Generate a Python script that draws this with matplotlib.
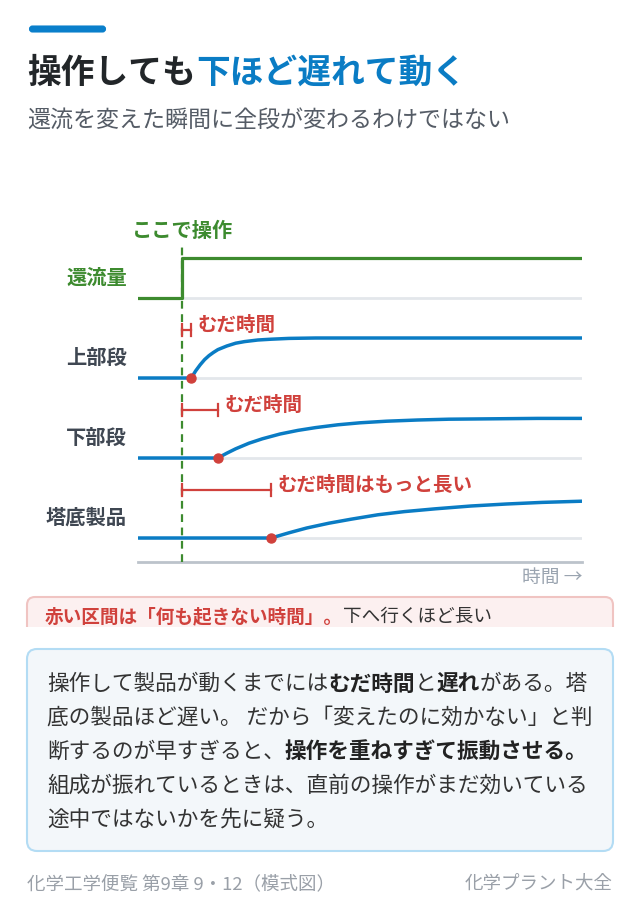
import numpy as np
import matplotlib
matplotlib.use("Agg")
import matplotlib.pyplot as plt
from matplotlib.patches import FancyBboxPatch, Rectangle

plt.rcParams['font.family'] = ['Noto Sans CJK JP', 'DejaVu Sans']

# --- data (time 0-100, response level 0-1 per row) ---
op_time = 10
reflux_t = [0, 10, 10, 100]
reflux_y = [0, 0, 1, 1]

top_t = [0, 12, 13, 14, 15, 16, 17, 18, 20, 22, 24, 27, 30, 34, 40, 50, 100]
top_y = [0, 0, 0.18, 0.33, 0.46, 0.56, 0.64, 0.71, 0.80, 0.87, 0.91, 0.95, 0.97, 0.99, 1.0, 1.0, 1.0]

mid_t = [0, 18, 20, 22, 25, 28, 32, 36, 40, 45, 50, 56, 63, 70, 80, 90, 100]
mid_y = [0, 0, 0.12, 0.23, 0.37, 0.48, 0.60, 0.69, 0.76, 0.83, 0.88, 0.92, 0.95, 0.97, 0.98, 0.99, 0.99]

bot_t = [0, 30, 34, 38, 43, 48, 54, 60, 67, 75, 83, 91, 100]
bot_y = [0, 0, 0.13, 0.25, 0.37, 0.47, 0.58, 0.66, 0.73, 0.80, 0.85, 0.89, 0.92]

row_labels = ['還流量', '上部段', '下部段', '塔底製品']
dead_ends = [12, 18, 30]
dead_labels = ['むだ時間', 'むだ時間', 'むだ時間はもっと長い']

GREEN = '#3d8b2f'
BLUE = '#0a7cc4'
RED = '#d0413c'
DARK = '#222629'
GRAY_TXT = '#3f4752'

fig = plt.figure(figsize=(6.4, 9.24), dpi=100)
fig.patch.set_facecolor('white')

# background / layout axes in pixel coords
bg = fig.add_axes([0, 0, 1, 1])
bg.set_xlim(0, 640)
bg.set_ylim(924, 0)
bg.axis('off')
renderer = fig.canvas.get_renderer()


def run_text(x, y, parts, size):
    for s, color, weight in parts:
        t = bg.text(x, y, s, color=color, fontsize=size, fontweight=weight,
                    va='center', ha='left', zorder=5)
        x += t.get_window_extent(renderer=renderer).width


# header bar, title, subtitle
bg.add_patch(FancyBboxPatch((30, 26.5), 75, 5, boxstyle='round,pad=0,rounding_size=2.5',
                            fc='#0a7fcb', ec='#0a7fcb', lw=1.5))
run_text(27, 72, [('操作しても', DARK, 'bold'), ('下ほど遅れて動く', BLUE, 'bold')], 24.3)
bg.text(27, 121, '還流を変えた瞬間に全段が変わるわけではない', color='#555c66',
        fontsize=16.6, va='center', ha='left')

# red note box (cut by the white gap above the blue box)
bg.add_patch(FancyBboxPatch((27, 597), 586, 50, boxstyle='round,pad=0,rounding_size=8',
                            fc='#fcf0f0', ec='#f0c4c2', lw=1.5, zorder=1))
bg.add_patch(Rectangle((20, 627), 600, 21, fc='white', ec='none', zorder=2))
run_text(45, 617, [('赤い区間は「何も起きない時間」。', RED, 'bold'),
                   ('下へ行くほど長い', '#333', 'normal')], 13.4)

# blue explanation box
bg.add_patch(FancyBboxPatch((27, 649), 586, 202, boxstyle='round,pad=0,rounding_size=10',
                            fc='#f3f7fa', ec='#b3dcf4', lw=1.5, zorder=3))
lines = [
    [('操作して製品が動くまでには', '#333', 'normal'), ('むだ時間', '#222', 'bold'),
     ('と', '#333', 'normal'), ('遅れ', '#222', 'bold'), ('がある。塔', '#333', 'normal')],
    [('底の製品ほど遅い。 だから「変えたのに効かない」と判', '#333', 'normal')],
    [('断するのが早すぎると、', '#333', 'normal'), ('操作を重ねすぎて振動させる。', '#222', 'bold')],
    [('組成が振れているときは、直前の操作がまだ効いている', '#333', 'normal')],
    [('途中ではないかを先に疑う。', '#333', 'normal')],
]
for i, ln in enumerate(lines):
    run_text(47, 684 + 34 * i, ln, 15.6)

# footer
bg.text(27, 884, '化学工学便覧 第9章 9・12（模式図）', color='#9aa0a8', fontsize=13.3,
        va='center', ha='left')
bg.text(613, 884, '化学プラント大全', color='#9aa0a8', fontsize=13.3, va='center', ha='right')

# --- chart axes ---
px_left, px_right, px_bottom, px_top = 138, 582, 562, 210
ax = fig.add_axes([px_left / 640, 1 - px_bottom / 924,
                   (px_right - px_left) / 640, (px_bottom - px_top) / 924])
ax.set_xlim(0, 100)
ax.set_ylim(-0.3, 4.1)
ax.patch.set_alpha(0)
ax.axis('off')

offsets = [3, 2, 1, 0]
amp = 0.5
for off in offsets:
    ax.plot([0, 100], [off, off], color='#e3e7eb', lw=2, zorder=1, solid_capstyle='butt')
ax.plot([0, 100], [-0.3, -0.3], color='#bcc3cb', lw=2, zorder=1, clip_on=False)

ax.plot(reflux_t, np.array(reflux_y) * amp + 3, color=GREEN, lw=2.3, zorder=3)
series = [(top_t, top_y), (mid_t, mid_y), (bot_t, bot_y)]
for (t, y), off, de, lab in zip(series, offsets[1:], dead_ends, dead_labels):
    ax.plot(t, np.array(y) * amp + off, color=BLUE, lw=2.5, zorder=3,
            solid_capstyle='butt')
    ax.plot([de], [off], 'o', color=RED, ms=6.5, zorder=4)
    by = off + 0.6
    ax.plot([op_time, de], [by, by], color=RED, lw=1.6, zorder=4)
    for xx in (op_time, de):
        ax.plot([xx, xx], [by - 0.07, by + 0.07], color=RED, lw=1.6, zorder=4)
    ax.text(de + 1.4, by + 0.06, lab, color=RED, fontsize=14, fontweight='bold',
            va='center', ha='left')

ax.plot([op_time, op_time], [-0.3, 3.65], color=GREEN, lw=1.6, ls=(0, (3.5, 2.5)),
        zorder=2, clip_on=False)
ax.text(op_time, 3.84, 'ここで操作', color=GREEN, fontsize=14.6, fontweight='bold',
        va='center', ha='center')

label_colors = [GREEN, GRAY_TXT, GRAY_TXT, GRAY_TXT]
for lab, off, c in zip(row_labels, offsets, label_colors):
    ax.text(-2.5, off + 0.26, lab, color=c, fontsize=14.6, fontweight='bold',
            va='center', ha='right', clip_on=False)

ax.text(100, -0.49, '時間 →', color='#9aa4b0', fontsize=13.5, va='center', ha='right',
        clip_on=False)

fig.savefig('out.png', dpi=100, facecolor='white')
